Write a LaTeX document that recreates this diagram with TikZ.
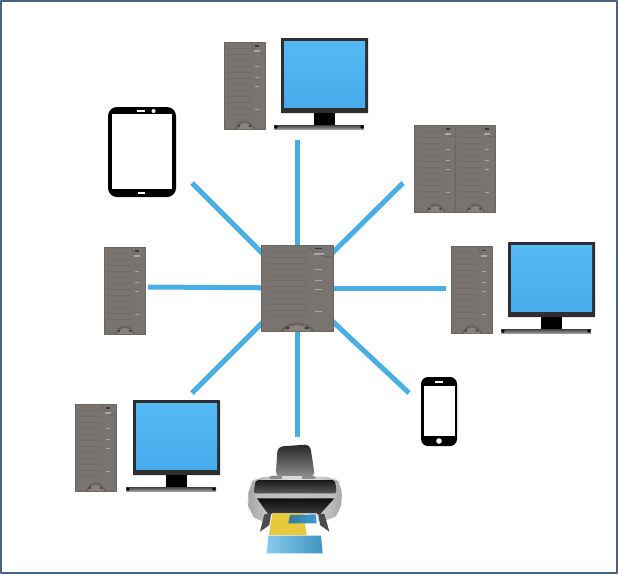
\documentclass[tikz,border=0pt]{standalone}
\usepackage{xcolor}
\definecolor{linkblue}{HTML}{4AAEE3}
\definecolor{framecol}{HTML}{476285}
\definecolor{towergray}{HTML}{7A7470}
\definecolor{towerdark}{HTML}{625D59}
\definecolor{towerlight}{HTML}{A3ABB0}
\definecolor{screentop}{HTML}{55B9F5}
\definecolor{screenbot}{HTML}{47ABEC}
\definecolor{paperyellow}{HTML}{E9C93C}

\begin{document}
\begin{tikzpicture}[
        x = 1pt, y = -1pt,
        line join=round,
        link/.style = {line width=5pt, linkblue},
        bezel/.style = {fill=black!82, draw=none},
        pics/tower/.style = {code={
            \fill[towergray, draw=towerdark!60!towergray, line width=0.6pt] (0, 0) rectangle (41, 87);
            \foreach \yy in {6, 12, ..., 72} {
                \draw[towerdark!35!towergray, line width=0.3pt] (3, \yy) -- (27, \yy);
            }
            \draw[towerdark, line width=0.5pt] (27, 0) .. controls (28, 7) and (33, 12) .. (41, 12);
            \fill[towerdark!60!black] (31, 3) rectangle (35, 4.5);
            \fill[towerlight] (30, 8) rectangle (36, 10);
            \foreach \yy in {24, 35, 44, 67} {
                \fill[towerlight] (31, \yy) rectangle (35, \yy + 1);
            }
            \fill[towerdark!80!towergray] (11, 87) .. controls (14, 76) and (27, 76) .. (31, 87) -- cycle;
            \fill[towergray!90!white] (13, 87) .. controls (16, 79) and (25, 79) .. (29, 87) -- cycle;
            \fill[black!75] (15, 84) circle (1.3);
            \fill[black!75] (26, 84) circle (1.3);
        }},
        pics/monitor/.style = {code={
            \fill[bezel, rounded corners=0.5pt] (0, 0) rectangle (87, 75);
            \shade[top color=screentop, bottom color=screenbot] (3, 3) rectangle (84, 69);
            \fill[black] (33, 75) rectangle (54, 87);
            \shade[top color=black!75, bottom color=black!40] (-7, 87) rectangle (83, 91);
            \fill[black] (-5, 89) circle (1.8);
            \fill[black] (81, 89) circle (1.8);
        }}
    ]

    \useasboundingbox (0, 0) rectangle (618, 574);
    \fill[white] (0, 0) rectangle (618, 574);
    \draw[framecol, line width=2pt] (1, 1) rectangle (616.5, 573);

    \node[minimum width=72pt, minimum height=86pt, inner sep=0pt] (hub) at (297, 288) {};

    \coordinate (topend) at (297, 140);
    \coordinate (upright) at (403, 183);
    \coordinate (rightend) at (446, 288);
    \coordinate (lowright) at (409, 393);
    \coordinate (botend) at (297, 437);
    \coordinate (lowleft) at (192, 393);
    \coordinate (leftend) at (148, 287);
    \coordinate (upleft) at (192, 183);

    \foreach \linkend in {topend, upright, rightend, lowright, botend, lowleft, leftend, upleft} {
        \draw[link] (hub.center) -- (\linkend);
    }

    % hub and towers
    \pic[xscale=72/41, yscale=86/87] at (261, 245) {tower};
    \pic at (224, 42) {tower};
    \pic at (414.5, 125) {tower};
    \pic[xscale=40/41] at (455, 125) {tower};
    \pic at (451, 246.5) {tower};
    \pic at (104, 247) {tower};
    \pic at (75, 404) {tower};

    % monitors
    \pic at (281, 38) {monitor};
    \pic at (508, 242) {monitor};
    \pic at (133, 400) {monitor};

    % tablet
    \fill[black, rounded corners=9pt] (108, 107) rectangle (176, 197);
    \fill[white] (112, 114) rectangle (172, 189);
    \fill[white] (137, 110.2) rectangle (145, 111.8);
    \fill[white] (153.5, 111) circle (2);
    \fill[white] (138, 192.3) rectangle (145, 193.7);

    % phone
    \fill[black, rounded corners=7pt] (421, 377) rectangle (457, 446);
    \fill[white] (423.5, 386) rectangle (454.5, 436);
    \fill[white] (435, 381.3) rectangle (443, 383);
    \fill[white] (439, 441) circle (2.8);

    % printer
    \begin{scope}[shift={(235, 435)}, scale=1/3]
        \shade[top color=black!85, bottom color=black!45, rounded corners=5pt]
            (122, 125) -- (128, 35) -- (225, 28) -- (240, 125) -- cycle;
        \shade[left color=black!35, right color=black!35, middle color=black!3, rounded corners=10pt]
            (38, 200) -- (42, 150) -- (65, 125) -- (295, 125) -- (322, 150) -- (318, 230) -- (285, 258) -- (70, 262) -- (42, 230) -- cycle;
        \shade[top color=black!90, bottom color=black!65, rounded corners=3pt]
            (55, 176) -- (62, 135) -- (300, 135) -- (305, 176) -- cycle;
        \fill[black!45, rounded corners=3pt] (105, 122) -- (240, 122) -- (245, 132) -- (100, 132) -- cycle;
        \fill[black!15] (140, 124) rectangle (200, 132);
        \fill[black!25] (58, 176) -- (303, 176) -- (300, 190) -- (65, 190) -- cycle;
        \shade[top color=black!95, bottom color=black!75]
            (66, 190) -- (298, 190) -- (255, 238) -- (100, 238) -- cycle;
        \fill[black!70] (88, 238) -- (108, 236) -- (103, 270) -- (75, 290) -- cycle;
        \fill[black!70] (250, 238) -- (268, 236) -- (283, 290) -- (255, 270) -- cycle;
        \fill[white] (110, 235) -- (245, 235) -- (258, 300) -- (100, 300) -- cycle;
        \fill[paperyellow] (112, 235) -- (205, 235) -- (215, 300) -- (102, 300) -- cycle;
        \shade[left color=linkblue!70!black, right color=linkblue!90!black] (165, 240) -- (243, 238) -- (245, 265) -- (160, 265) -- cycle;
        \shade[left color=linkblue!65!white, right color=linkblue!85!black] (100, 302) -- (258, 302) -- (263, 355) -- (95, 355) -- cycle;
    \end{scope}
\end{tikzpicture}
\end{document}
